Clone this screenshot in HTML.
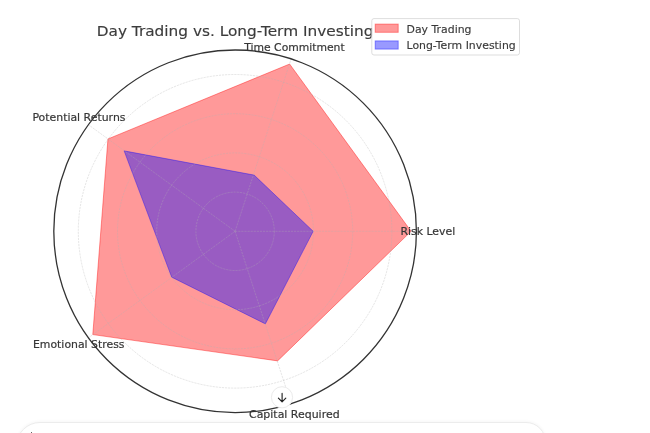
<!DOCTYPE html>
<html><head><meta charset="utf-8"><title>Day Trading vs. Long-Term Investing</title>
<style>
html,body{margin:0;padding:0;background:#fff;overflow:hidden;}
body{width:650px;height:433px;overflow:hidden;position:relative;font-family:"DejaVu Sans","Liberation Sans",sans-serif;}
svg{position:absolute;left:0;top:0;filter:blur(0.45px);}
svg text{font-family:"DejaVu Sans","Liberation Sans",sans-serif;}
.inputbox{position:absolute;left:15.5px;top:421.6px;width:530px;height:60px;border:1px solid #ececec;border-radius:24px 20px 20px 24px;box-shadow:0 -1px 3px rgba(0,0,0,0.035);background:#fff;box-sizing:border-box;}
.dot{position:absolute;left:30.6px;top:431.6px;width:1.6px;height:3px;background:#444;border-radius:1px;}
</style></head>
<body>
<svg width="650" height="433" viewBox="0 0 650 433">
<rect width="650" height="433" fill="#fff"/>
<polygon points="411.10,231.30 289.61,64.03 107.95,138.94 92.79,334.59 277.60,360.88" fill="#ff0000" fill-opacity="0.4" stroke="#ff0000" stroke-opacity="0.4" stroke-width="1.0" stroke-linejoin="round"/>
<polygon points="313.20,231.30 254.17,175.08 124.10,150.86 171.67,277.18 265.38,323.90" fill="#0000ff" fill-opacity="0.4" stroke="#0000ff" stroke-opacity="0.4" stroke-width="0.9" stroke-linejoin="round"/>
<g fill="none" stroke="#b0b0b0" stroke-opacity="0.36" stroke-width="0.9" stroke-dasharray="2.2 0.9">
<circle cx="235.10" cy="231.30" r="39.20"/>
<circle cx="235.10" cy="231.30" r="78.40"/>
<circle cx="235.10" cy="231.30" r="117.60"/>
<circle cx="235.10" cy="231.30" r="156.80"/>
<line x1="235.10" y1="231.30" x2="416.40" y2="231.30"/>
<line x1="235.10" y1="231.30" x2="291.12" y2="58.87"/>
<line x1="235.10" y1="231.30" x2="88.43" y2="124.73"/>
<line x1="235.10" y1="231.30" x2="88.43" y2="337.87"/>
<line x1="235.10" y1="231.30" x2="291.12" y2="403.73"/>
</g>
<circle cx="235.1" cy="231.3" r="181.3" fill="none" stroke="#333" stroke-width="1.3"/>
<g font-size="11.3px" fill="#363636" stroke="#363636" stroke-width="0.2">
<text x="400.40" y="234.70" textLength="54.80" lengthAdjust="spacingAndGlyphs">Risk Level</text>
<text x="244.30" y="50.60" textLength="100.40" lengthAdjust="spacingAndGlyphs">Time Commitment</text>
<text x="32.40" y="121.10" textLength="93.10" lengthAdjust="spacingAndGlyphs">Potential Returns</text>
<text x="33.00" y="347.60" textLength="91.50" lengthAdjust="spacingAndGlyphs">Emotional Stress</text>
<text x="249.00" y="418.30" textLength="90.60" lengthAdjust="spacingAndGlyphs">Capital Required</text>
</g>
<text x="96.7" y="36.2" font-size="14.8px" fill="#3c3c3c" stroke="#3c3c3c" stroke-width="0.15" textLength="276.7" lengthAdjust="spacingAndGlyphs">Day Trading vs. Long-Term Investing</text>
<g>
<rect x="371.8" y="18.6" width="147.7" height="36.4" rx="2.2" ry="2.2" fill="#fff" fill-opacity="0.8" stroke="#d4d4d4" stroke-opacity="0.8" stroke-width="1"/>
<rect x="375.2" y="24.1" width="23" height="8.2" fill="#ff0000" fill-opacity="0.4" stroke="#ff0000" stroke-opacity="0.4" stroke-width="1"/>
<rect x="375.2" y="40.9" width="23" height="8.2" fill="#0000ff" fill-opacity="0.4" stroke="#0000ff" stroke-opacity="0.4" stroke-width="1"/>
<g font-size="11.3px" fill="#3a3a3a" stroke="#3a3a3a" stroke-width="0.15">
<text x="406.5" y="32.7" textLength="65.0" lengthAdjust="spacingAndGlyphs">Day Trading</text>
<text x="406.5" y="49.2" textLength="109.2" lengthAdjust="spacingAndGlyphs">Long-Term Investing</text>
</g>
</g>
<circle cx="282" cy="397.3" r="10.6" fill="#fff" stroke="#ebebeb" stroke-width="1"/>
<path d="M282.1 393.4 V401.6 M278.4 398.2 L282.1 401.9 L285.8 398.2" fill="none" stroke="#222" stroke-width="1.15" stroke-linecap="round" stroke-linejoin="round"/>
</svg>
<div class="inputbox"></div>
<div class="dot"></div>
</body></html>
